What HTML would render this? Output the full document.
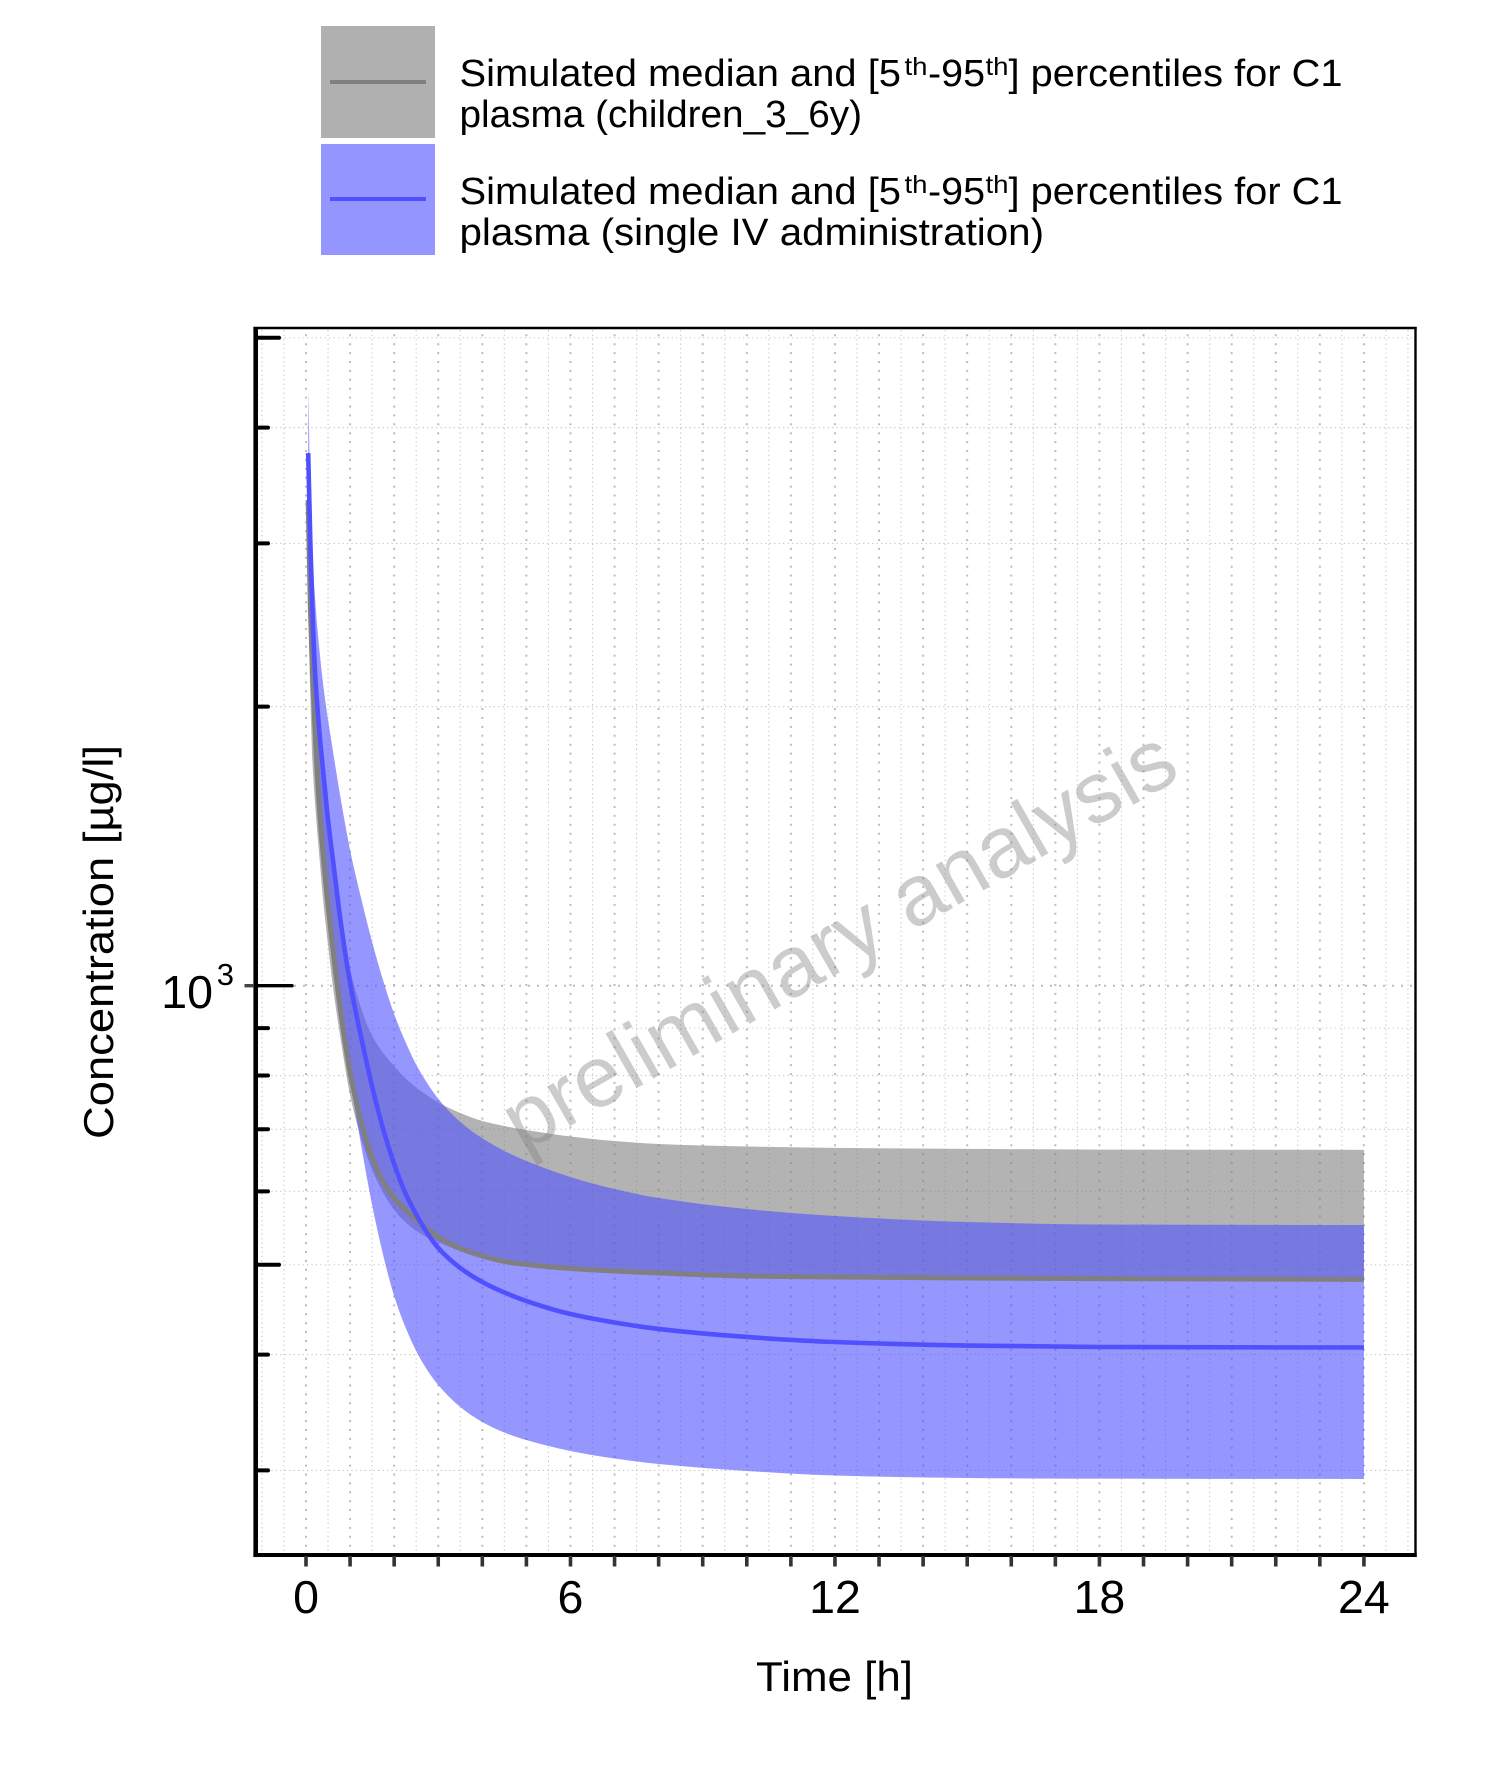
<!DOCTYPE html>
<html lang="en">
<head>
<meta charset="utf-8">
<title>Concentration time profile</title>
<style>
html,body{margin:0;padding:0;background:#fff;}
svg{display:block;font-family:"Liberation Sans",sans-serif;}
</style>
</head>
<body>
<svg id="chart" xmlns="http://www.w3.org/2000/svg" width="1500" height="1784" viewBox="0 0 1500 1784">
  <rect x="0" y="0" width="1500" height="1784" fill="#fff"/>

  <g>
    <g>
      <rect x="321" y="26" width="114" height="112" fill="#b0b0b0"/>
      <rect x="330" y="80" width="96" height="4" fill="#808080"/>
      <g font-size="38" fill="#000">
        <text x="459.5" y="86" textLength="441.5" lengthAdjust="spacingAndGlyphs">Simulated median and [5</text>
        <text x="904.5" y="75" font-size="25" textLength="23" lengthAdjust="spacingAndGlyphs">th</text>
        <text x="928" y="86" textLength="57" lengthAdjust="spacingAndGlyphs">-95</text>
        <text x="985.5" y="75" font-size="25" textLength="23" lengthAdjust="spacingAndGlyphs">th</text>
        <text x="1008.5" y="86" textLength="334" lengthAdjust="spacingAndGlyphs">] percentiles for C1</text>
        <text x="459.5" y="127" textLength="402.5" lengthAdjust="spacingAndGlyphs">plasma (children_3_6y)</text>
      </g>
    </g>
    <g>
      <rect x="321" y="144" width="114" height="111" fill="#9595ff"/>
      <rect x="330" y="197" width="96" height="4" fill="#5050ff"/>
      <g font-size="38" fill="#000">
        <text x="459.5" y="204" textLength="441.5" lengthAdjust="spacingAndGlyphs">Simulated median and [5</text>
        <text x="904.5" y="193" font-size="25" textLength="23" lengthAdjust="spacingAndGlyphs">th</text>
        <text x="928" y="204" textLength="57" lengthAdjust="spacingAndGlyphs">-95</text>
        <text x="985.5" y="193" font-size="25" textLength="23" lengthAdjust="spacingAndGlyphs">th</text>
        <text x="1008.5" y="204" textLength="334" lengthAdjust="spacingAndGlyphs">] percentiles for C1</text>
        <text x="459.5" y="245" textLength="584.5" lengthAdjust="spacingAndGlyphs">plasma (single IV administration)</text>
      </g>
    </g>
  </g>

  <g id="grid"></g>

  <text transform="translate(523 1153) rotate(-29.7)" font-size="86.5" fill="#808080" fill-opacity="0.4">preliminary analysis</text>

  <g id="series"></g>
  <g id="axes"></g>

  <text transform="translate(113 1139) rotate(-90)" font-size="42" fill="#000" textLength="394" lengthAdjust="spacingAndGlyphs">Concentration [µg/l]</text>
  <text x="756" y="1691" font-size="42" fill="#000" textLength="157" lengthAdjust="spacingAndGlyphs">Time [h]</text>
</svg>

<script>
var times = [0.05, 0.1, 0.15, 0.2, 0.3, 0.4, 0.5, 0.6, 0.8, 1, 1.25, 1.5, 1.75, 2, 2.25, 2.5, 2.75, 3, 3.5, 4, 4.5, 5, 6, 7, 8, 10, 12, 15, 18, 24];
var childrenMedian = [3342, 2543, 2163, 1911, 1566, 1366, 1222, 1106, 928, 807, 713, 652, 614, 590, 573, 559, 546.5, 535.7, 520.6, 511, 504.1, 500.3, 495.4, 492.3, 489.9, 486.2, 485, 483.8, 483, 482.2];
var childrenUpper = [3600, 3026, 2607, 2302, 1887, 1626, 1454, 1333, 1148, 1040, 946, 883, 846, 819, 795, 776.5, 761.3, 748.2, 728.9, 714.6, 705.8, 698.8, 687.6, 679.9, 674.9, 670.7, 668.4, 666.8, 665.6, 665.2];
var childrenLower = [2607, 2033, 1730, 1586, 1383, 1222, 1106, 1007, 867, 762, 685, 633, 598, 573, 556, 544, 535, 529, 517, 508.4, 502, 498.5, 493.5, 490.5, 488, 483.8, 482.6, 481.4, 480.8, 480.2];
var singleIvMedian = [3755, 2988, 2511, 2201, 1887, 1684, 1509, 1380, 1160, 1007, 880, 778.5, 700.5, 642.2, 598.1, 566.5, 541, 521.3, 496, 479, 466.7, 456.9, 442.4, 433.2, 426.3, 417.9, 412.7, 409.1, 407.6, 407.1];
var singleIvUpper = [4413, 3426, 2915, 2639, 2314, 2095, 1935, 1805, 1578, 1401, 1243, 1115, 1013, 932, 871, 822, 785, 755, 713, 684.5, 663.3, 647, 621.8, 603.5, 590.2, 574.2, 564.4, 556, 552.6, 551.9];
var singleIvLower = [3026, 2302, 1983, 1774, 1491, 1316, 1189, 1090, 923, 795, 673, 580, 512.3, 462.7, 428.9, 403.6, 385, 370.9, 351.2, 338.3, 329.6, 323.5, 314.8, 309, 304.8, 299.6, 296.2, 294.4, 293.9, 293.7];

var xTickValues = [0, 1, 2, 3, 4, 5, 6, 7, 8, 9, 10, 11, 12, 13, 14, 15, 16, 17, 18, 19, 20, 21, 22, 23, 24];
var xTickLabels = ["0", "6", "12", "18", "24"];
var xLightGrid = [-1, -0.5, 0.5, 1.5, 2.5, 3.5, 4.5, 5.5, 6.5, 7.5, 8.5, 9.5, 10.5, 11.5, 12.5, 13.5, 14.5, 15.5, 16.5, 17.5, 18.5, 19.5, 20.5, 21.5, 22.5, 23.5, 24.5, 25];
var yMinorTicks = [4000, 3000, 2000, 900, 800, 700, 600, 400, 300];
var yMidTicks = [5000, 500];
var yMajorTicks = [1000];

var NS = 'http://www.w3.org/2000/svg';
function xScale(t) { return 306 + 44.08 * t; }
function yScale(v) { return 985.7 - 927 * Math.log10(v / 1000); }

var gridLayer = document.getElementById('grid');
var seriesLayer = document.getElementById('series');
var axesLayer = document.getElementById('axes');

function makeLine(parent, x1, y1, x2, y2, stroke, width, dash, cap) {
  var l = document.createElementNS(NS, 'line');
  l.setAttribute('x1', x1);
  l.setAttribute('y1', y1);
  l.setAttribute('x2', x2);
  l.setAttribute('y2', y2);
  l.setAttribute('stroke', stroke);
  l.setAttribute('stroke-width', width);
  if (dash) l.setAttribute('stroke-dasharray', dash);
  if (cap) l.setAttribute('stroke-linecap', cap);
  parent.appendChild(l);
  return l;
}

function monotoneTangents(pts) {
  var n = pts.length, d = [], m = [], i;
  for (i = 0; i < n - 1; i++) {
    d.push((pts[i + 1][1] - pts[i][1]) / (pts[i + 1][0] - pts[i][0]));
  }
  m[0] = d[0];
  m[n - 1] = d[n - 2];
  for (i = 1; i < n - 1; i++) {
    if (d[i - 1] * d[i] <= 0) {
      m[i] = 0;
    } else {
      var h0 = pts[i][0] - pts[i - 1][0], h1 = pts[i + 1][0] - pts[i][0];
      var w1 = 2 * h1 + h0, w2 = h1 + 2 * h0;
      m[i] = (w1 + w2) / (w1 / d[i - 1] + w2 / d[i]);
    }
  }
  return m;
}

function curveForward(pts) {
  var m = monotoneTangents(pts), s = '';
  for (var i = 0; i < pts.length - 1; i++) {
    var h = (pts[i + 1][0] - pts[i][0]) / 3;
    s += 'C' + (pts[i][0] + h).toFixed(2) + ' ' + (pts[i][1] + m[i] * h).toFixed(2) + ' ' +
         (pts[i + 1][0] - h).toFixed(2) + ' ' + (pts[i + 1][1] - m[i + 1] * h).toFixed(2) + ' ' +
         pts[i + 1][0].toFixed(2) + ' ' + pts[i + 1][1].toFixed(2);
  }
  return s;
}

function curveBackward(pts) {
  var m = monotoneTangents(pts), s = '';
  for (var i = pts.length - 1; i > 0; i--) {
    var h = (pts[i][0] - pts[i - 1][0]) / 3;
    s += 'C' + (pts[i][0] - h).toFixed(2) + ' ' + (pts[i][1] - m[i] * h).toFixed(2) + ' ' +
         (pts[i - 1][0] + h).toFixed(2) + ' ' + (pts[i - 1][1] + m[i - 1] * h).toFixed(2) + ' ' +
         pts[i - 1][0].toFixed(2) + ' ' + pts[i - 1][1].toFixed(2);
  }
  return s;
}

function toPoints(xs, vs) {
  return xs.map(function (t, i) { return [xScale(t), yScale(vs[i])]; });
}

function linePath(xs, vs) {
  var p = toPoints(xs, vs);
  return 'M' + p[0][0].toFixed(2) + ' ' + p[0][1].toFixed(2) + curveForward(p);
}

function bandPath(xs, upper, lower) {
  var up = toPoints(xs, upper);
  var lo = toPoints(xs, lower);
  var last = lo[lo.length - 1];
  return 'M' + up[0][0].toFixed(2) + ' ' + up[0][1].toFixed(2) + curveForward(up) +
         'L' + last[0].toFixed(2) + ' ' + last[1].toFixed(2) + curveBackward(lo) + 'Z';
}

/* grid */
var gridTop = 330, gridBottom = 1546.7, gridLeft = 258, gridRight = 1414;
xLightGrid.forEach(function (t) {
  var l = makeLine(gridLayer, xScale(t), gridBottom + 4, xScale(t), gridTop, '#c4c4c4', 1.1, '1.2 3.25');
  
  
});
xTickValues.forEach(function (t) {
  var l = makeLine(gridLayer, xScale(t), gridBottom, xScale(t), gridTop, '#bcbcbc', 2, '2 6.9');
  
  
});
yMinorTicks.concat(yMidTicks).forEach(function (v) {
  var l = makeLine(gridLayer, gridLeft, yScale(v), gridRight, yScale(v), '#c4c4c4', 1.1, '1.2 3.25');
  
  
});
yMajorTicks.forEach(function (v) {
  var l = makeLine(gridLayer, gridLeft, yScale(v), gridRight, yScale(v), '#bcbcbc', 2, '2 7');
  
  
});

/* bands and lines */
var childrenBand = document.createElementNS(NS, 'path');
childrenBand.setAttribute('d', bandPath(times, childrenUpper, childrenLower));
childrenBand.setAttribute('fill', '#808080');
childrenBand.setAttribute('fill-opacity', '0.6');


seriesLayer.appendChild(childrenBand);

var singleIvBand = document.createElementNS(NS, 'path');
singleIvBand.setAttribute('d', bandPath(times, singleIvUpper, singleIvLower));
singleIvBand.setAttribute('fill', '#5050ff');
singleIvBand.setAttribute('fill-opacity', '0.6');


seriesLayer.appendChild(singleIvBand);

var childrenLine = document.createElementNS(NS, 'path');
childrenLine.setAttribute('d', linePath(times, childrenMedian));
childrenLine.setAttribute('fill', 'none');
childrenLine.setAttribute('stroke', '#808080');
childrenLine.setAttribute('stroke-width', '5');


seriesLayer.appendChild(childrenLine);

var singleIvLine = document.createElementNS(NS, 'path');
singleIvLine.setAttribute('d', linePath(times, singleIvMedian));
singleIvLine.setAttribute('fill', 'none');
singleIvLine.setAttribute('stroke', '#5050ff');
singleIvLine.setAttribute('stroke-width', '4.6');


seriesLayer.appendChild(singleIvLine);

/* axes */
var spineLeft = makeLine(axesLayer, 255.7, 327, 255.7, 1557, '#000', 4.6);


var spineBottom = makeLine(axesLayer, 253.4, 1555, 1416.7, 1555, '#000', 4);


var spineTop = makeLine(axesLayer, 253.4, 328, 1416.7, 328, '#000', 2.4);


var spineRight = makeLine(axesLayer, 1415.5, 327, 1415.5, 1557, '#000', 2.4);



xTickValues.forEach(function (t) {
  var l = makeLine(axesLayer, xScale(t), 1556, xScale(t), 1566.5, '#333', 3.6);
  
  
});
yMinorTicks.forEach(function (v) {
  var l = makeLine(axesLayer, 257, yScale(v), 268, yScale(v), '#000', 4, null, 'round');
  
  
});
yMidTicks.forEach(function (v) {
  var l = makeLine(axesLayer, 257, yScale(v), 279, yScale(v), '#000', 4, null, 'round');
  
  
});
yMajorTicks.forEach(function (v) {
  var outer = makeLine(axesLayer, 244.5, yScale(v), 254, yScale(v), '#444', 3.4);
  
  
  var inner = makeLine(axesLayer, 257, yScale(v), 292, yScale(v), '#000', 3.4, null, 'round');
  
  

  var base = document.createElementNS(NS, 'text');
  base.setAttribute('x', 213);
  base.setAttribute('y', yScale(v) + 22.3);
  base.setAttribute('text-anchor', 'end');
  base.setAttribute('font-size', '46.5');
  base.textContent = '10';
  
  
  axesLayer.appendChild(base);

  var exp = document.createElementNS(NS, 'text');
  exp.setAttribute('x', 234);
  exp.setAttribute('y', yScale(v) - 0.7);
  exp.setAttribute('text-anchor', 'end');
  exp.setAttribute('font-size', '31');
  exp.textContent = String(Math.log10(v));
  
  
  axesLayer.appendChild(exp);
});
xTickLabels.forEach(function (lab) {
  var txt = document.createElementNS(NS, 'text');
  txt.setAttribute('x', xScale(Number(lab)));
  txt.setAttribute('y', 1613);
  txt.setAttribute('text-anchor', 'middle');
  txt.setAttribute('font-size', '46.5');
  txt.textContent = lab;
  
  
  axesLayer.appendChild(txt);
});
</script>
</body>
</html>
